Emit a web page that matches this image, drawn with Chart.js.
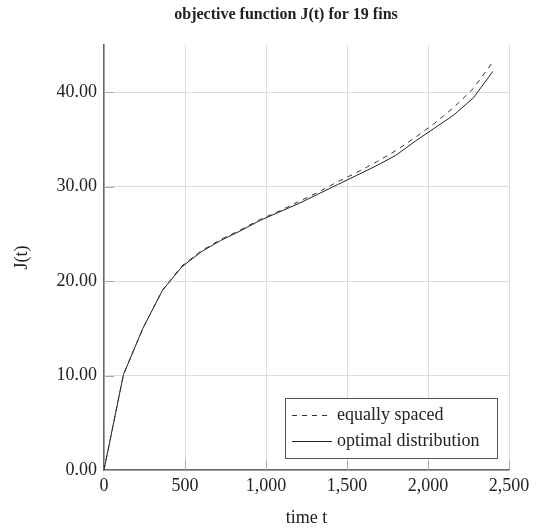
<!DOCTYPE html>
<html>
<head>
<meta charset="utf-8">
<script src="https://cdn.jsdelivr.net/npm/chart.js@4/dist/chart.umd.min.js"></script>
<style>
  html, body { margin: 0; padding: 0; background: #fff; }
  #wrap { width: 538px; height: 530px; }
</style>
</head>
<body>
<div id="wrap"><canvas id="c" width="538" height="530"></canvas></div>
<script>
const TITLE = 'objective function J(t) for 19 fins';
const X_TITLE = 'time t';
const Y_TITLE = 'J(t)';
const TIMES = [0, 120, 240, 360, 480, 600, 720, 840, 960, 1080, 1200, 1320, 1440, 1560, 1680, 1800, 1920, 2040, 2160, 2280, 2400];
const EQUAL = [0, 10.1, 15.0, 19.0, 21.6, 23.2, 24.4, 25.4, 26.5, 27.4, 28.4, 29.4, 30.5, 31.5, 32.6, 33.8, 35.2, 36.7, 38.4, 40.4, 43.2];
const OPTIMAL = [0, 10.1, 15.0, 19.0, 21.5, 23.1, 24.3, 25.3, 26.4, 27.3, 28.2, 29.2, 30.2, 31.2, 32.2, 33.3, 34.8, 36.2, 37.6, 39.4, 42.2];
const X_TICKS = [0, 500, 1000, 1500, 2000, 2500];
const Y_TICKS = [0, 10, 20, 30, 40];

const SERIF = "'Liberation Serif', 'Times New Roman', serif";
const INK = '#222';
const AXIS = '#666';
const GRID = '#dcdcdc';
const TICK = '#aaa';

const pts = ys => TIMES.map((t, i) => ({ x: t, y: ys[i] }));

// title sits a bit right of the canvas centre, as in the original
const topTitle = {
  id: 'topTitle',
  afterDraw(chart) {
    const { ctx } = chart;
    ctx.save();
    ctx.font = 'bold 16px ' + SERIF;
    ctx.fillStyle = INK;
    ctx.textAlign = 'center';
    ctx.textBaseline = 'middle';
    ctx.fillText(TITLE, 286, 15);
    ctx.restore();
  }
};

// inward tick marks
const innerTicks = {
  id: 'innerTicks',
  beforeDatasetsDraw(chart) {
    const { ctx, chartArea: a, scales: { x, y } } = chart;
    ctx.save();
    ctx.strokeStyle = TICK;
    ctx.lineWidth = 1;
    ctx.beginPath();
    X_TICKS.forEach(v => { const p = Math.round(x.getPixelForValue(v)) + 0.5; ctx.moveTo(p, a.bottom); ctx.lineTo(p, a.bottom - 10); });
    Y_TICKS.forEach(v => { const p = Math.round(y.getPixelForValue(v)) + 0.5; ctx.moveTo(a.left, p); ctx.lineTo(a.left + 10, p); });
    ctx.stroke();
    ctx.restore();
  }
};

// boxed legend inside the plot, lower right
const boxLegend = {
  id: 'boxLegend',
  afterDatasetsDraw(chart) {
    const { ctx, chartArea: a } = chart;
    const w = 212, h = 60;
    const bx = a.right - 12 - w, by = a.bottom - 12 - h;
    ctx.save();
    ctx.fillStyle = '#fff';
    ctx.fillRect(bx, by, w, h);
    ctx.strokeStyle = '#555';
    ctx.lineWidth = 1;
    ctx.strokeRect(Math.round(bx) + 0.5, Math.round(by) + 0.5, w, h);
    ctx.font = '18px ' + SERIF;
    ctx.textBaseline = 'middle';
    chart.data.datasets.forEach((ds, i) => {
      const cy = by + 17 + i * 26;
      ctx.strokeStyle = ds.borderColor;
      ctx.lineWidth = ds.borderWidth;
      ctx.setLineDash(ds.borderDash || []);
      ctx.beginPath();
      ctx.moveTo(bx + 7, cy + 0.5);
      ctx.lineTo(bx + 47, cy + 0.5);
      ctx.stroke();
      ctx.setLineDash([]);
      ctx.fillStyle = INK;
      ctx.fillText(ds.label, bx + 52, cy);
    });
    ctx.restore();
  }
};

new Chart(document.getElementById('c'), {
  type: 'line',
  data: {
    datasets: [
      { label: 'equally spaced', data: pts(EQUAL), borderColor: '#333', borderWidth: 1, borderDash: [5, 5], pointRadius: 0, tension: 0 },
      { label: 'optimal distribution', data: pts(OPTIMAL), borderColor: '#222', borderWidth: 1, pointRadius: 0, tension: 0 }
    ]
  },
  options: {
    responsive: false,
    animation: false,
    layout: { padding: { left: 0, right: 29, top: 45, bottom: 0 } },
    plugins: {
      legend: { display: false },
      tooltip: { enabled: false },
      title: { display: false }
    },
    scales: {
      x: {
        type: 'linear', min: 0, max: 2500,
        afterBuildTicks: s => { s.ticks = X_TICKS.map(v => ({ value: v })); },
        afterFit: s => { s.height = 60; },
        grid: { color: GRID, drawTicks: false },
        border: { color: AXIS, width: 1.5 },
        ticks: { color: INK, padding: 5, maxRotation: 0, font: { family: SERIF, size: 18 }, callback: v => v.toLocaleString('en-US') },
        title: { display: true, text: X_TITLE, color: INK, font: { family: SERIF, size: 18 }, padding: { bottom: 1 } }
      },
      y: {
        min: 0, max: 45,
        afterBuildTicks: s => { s.ticks = Y_TICKS.map(v => ({ value: v })); },
        afterFit: s => { s.width = 104; },
        grid: { color: GRID, drawTicks: false },
        border: { color: AXIS, width: 1.5 },
        ticks: { color: INK, padding: 7, font: { family: SERIF, size: 18 }, callback: v => v.toFixed(2) },
        title: { display: true, text: Y_TITLE, color: INK, font: { family: SERIF, size: 18 }, padding: { top: 11 } }
      }
    }
  },
  plugins: [innerTicks, boxLegend, topTitle]
});
</script>
</body>
</html>
